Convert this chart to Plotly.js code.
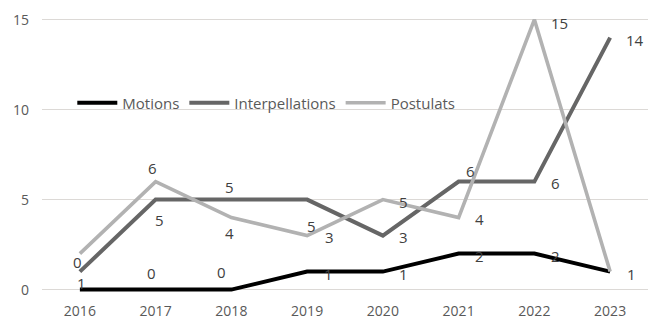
<!DOCTYPE html>
<html>
<head>
<meta charset="utf-8">
<script src="https://cdn.plot.ly/plotly-3.0.1.min.js"></script>
<style>html,body{margin:0;padding:0;background:#fff;}#chart{width:648px;height:319px;}</style>
</head>
<body>
<div id="chart"></div>
<script>
const years = ['2016','2017','2018','2019','2020','2021','2022','2023'];
const motions = [0,0,0,1,1,2,2,1];
const interpellations = [1,5,5,5,3,6,6,14];
const postulats = [2,6,4,3,5,4,15,1];
const yTicks = [0,5,10,15];

// label offsets in px [dx, dy(down)] ; null = label hidden
const motionsOff = [[-2,-28],[-4,-17],[-10,-18],[21,2],[21,2],[21,2],[21,2],[21,2]];
const interpOff = [[2,11],[4,20],[-2,-13],[4,26],[21,1],[12,-11],[21,1],[25,2]];
const postOff = [null,[-3,-14],[-2,15],[22,1],[21,2],[21,1],[25,3],null];

const series = [
  {name:'Motions', y:motions, color:'#000000', width:4, off:motionsOff},
  {name:'Interpellations', y:interpellations, color:'#666666', width:4, off:interpOff},
  {name:'Postulats', y:postulats, color:'#b2b2b2', width:3.6, off:postOff}
];

const traces = series.map(s => ({
  type:'scatter', mode:'lines', name:s.name, x:years, y:s.y,
  line:{color:s.color, width:s.width}, hoverinfo:'skip'
}));

const annotations = [];
series.forEach(s => {
  s.y.forEach((v,i) => {
    const o = s.off[i];
    if (!o) return;
    annotations.push({x:i, y:v, xref:'x', yref:'y', text:String(v), showarrow:false,
      xshift:o[0], yshift:-o[1], font:{family:'Open Sans', size:15, color:'#404040'}});
  });
});

const layout = {
  width:648, height:319,
  margin:{l:42, r:0, t:16, b:24, pad:0},
  paper_bgcolor:'#ffffff', plot_bgcolor:'#ffffff',
  font:{family:'Open Sans', size:14, color:'#595959'},
  showlegend:true,
  legend:{orientation:'h', x:0.05, xanchor:'left', y:0.688, yanchor:'middle',
    bgcolor:'rgba(255,255,255,0)', font:{family:'Open Sans', size:15, color:'#595959'}, itemwidth:40},
  xaxis:{type:'category', range:[-0.5,7.5], showgrid:false, zeroline:false, showline:false,
    ticks:'', ticklabelstandoff:6, tickfont:{family:'Open Sans', size:14, color:'#595959'}, fixedrange:true},
  yaxis:{range:[-0.3,15.2], tickvals:yTicks, ticktext:yTicks.map(String), showgrid:true, gridcolor:'#dcd9d6', gridwidth:1,
    zeroline:false, showline:false, ticks:'', ticklabelstandoff:12,
    tickfont:{family:'Open Sans', size:14, color:'#595959'}, fixedrange:true},
  annotations:annotations
};

Plotly.newPlot('chart', traces, layout, {displayModeBar:false, staticPlot:true});
</script>
</body>
</html>
